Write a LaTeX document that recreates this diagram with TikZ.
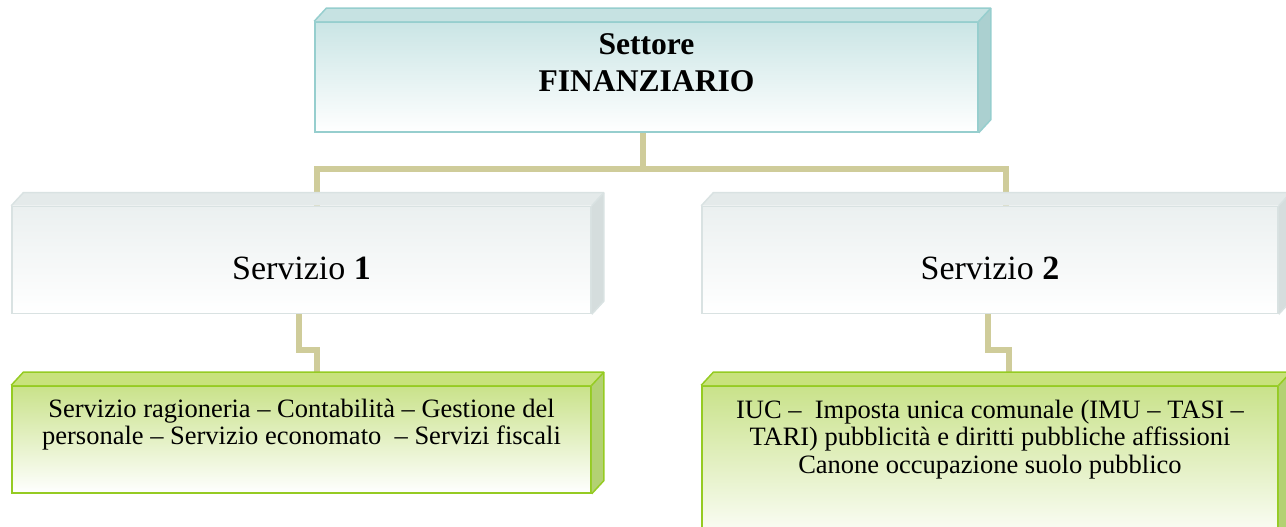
\documentclass[tikz,border=0pt]{standalone}
\usepackage{fontspec}
\setmainfont{Liberation Serif}
\usetikzlibrary{backgrounds}
\definecolor{connC}{HTML}{CFCC9A}
\definecolor{tealB}{HTML}{96CECE}
\definecolor{tealTop}{HTML}{C6E2E2}
\definecolor{tealSide}{HTML}{ABD0D0}
\definecolor{tealFront}{HTML}{CAE5E5}
\definecolor{grayB}{HTML}{D9E2E2}
\definecolor{grayTop}{HTML}{E4EAEA}
\definecolor{graySide}{HTML}{D5DDDD}
\definecolor{grayFront}{HTML}{EBF0F0}
\definecolor{greenB}{HTML}{95CB22}
\definecolor{greenTop}{HTML}{C8E27C}
\definecolor{greenSide}{HTML}{B3D173}
\definecolor{greenFront}{HTML}{C9E28A}
\tikzset{
  x=1pt,y=1pt,
  conn/.style={draw=connC, line width=6pt, line join=miter},
  facebox/.style={draw, line width=1.5pt, inner sep=0pt, align=center, bottom color=white},
  tealbox/.style={facebox, draw=tealB, top color=tealFront},
  graybox/.style={facebox, draw=grayB, top color=grayFront},
  greenbox/.style={facebox, draw=greenB, top color=greenFront},
}
\newcommand\boxdepth[4]{%
  \fill[#2] (#1.north west) -- ++(12,13) -- ([shift={(12,13)}]#1.north east) -- (#1.north east) -- cycle;
  \fill[#3] (#1.north east) -- ++(12,13) -- ([shift={(12,13)}]#1.south east) -- (#1.south east) -- cycle;
  \draw[#4, line width=1.5pt, line join=round] (#1.north west) -- ++(12,13) -- ([shift={(12,13)}]#1.north east) -- ([shift={(12,13)}]#1.south east) -- (#1.south east);
  \draw[#4, line width=1.5pt] (#1.north east) -- ++(12,13);
}
\begin{document}
\begin{tikzpicture}
\useasboundingbox (0,0) rectangle (1286,527);
% top box
\node[tealbox, minimum width=663, minimum height=110] (top) at (646.5,450)
  {\parbox[c][110pt][t]{640pt}{\centering\fontsize{31.6}{37}\selectfont\bfseries\vspace*{12pt}Settore\\FINANZIARIO}};
\boxdepth{top}{tealTop}{tealSide}{tealB}
% service boxes
\node[graybox, minimum width=579, minimum height=107] (s1) at (301.5,267)
  {\parbox[c][107pt][t]{560pt}{\centering\fontsize{34}{38}\selectfont\vspace*{50pt}Servizio \textbf{1}}};
\boxdepth{s1}{grayTop}{graySide}{grayB}
\node[graybox, minimum width=576, minimum height=107] (s2) at (990,267)
  {\parbox[c][107pt][t]{560pt}{\centering\fontsize{34}{38}\selectfont\vspace*{50pt}Servizio \textbf{2}}};
\boxdepth{s2}{grayTop}{graySide}{grayB}
% green boxes
\node[greenbox, minimum width=579, minimum height=107] (g1) at (301.5,87.5)
  {\parbox[c][107pt][t]{570pt}{\centering\fontsize{26.5}{27.5}\selectfont\vspace*{13pt}Servizio ragioneria -- Contabilità -- Gestione del\\personale -- Servizio economato~ -- Servizi fiscali}};
\boxdepth{g1}{greenTop}{greenSide}{greenB}
\node[greenbox, minimum width=576, minimum height=160] (g2) at (990,61)
  {\parbox[c][160pt][t]{570pt}{\centering\fontsize{26.5}{27.5}\selectfont\vspace*{14pt}IUC --~ Imposta unica comunale (IMU -- TASI --\\TARI) pubblicità e diritti pubbliche affissioni\\Canone occupazione suolo pubblico}};
\boxdepth{g2}{greenTop}{greenSide}{greenB}
% connectors
\begin{scope}[on background layer]
\draw[conn] ([xshift=-3.5pt]top.south) -- ++(0,-36) coordinate (bar);
\draw[conn] ([xshift=15pt]s1.north) |- (bar) -| ([xshift=16pt]s2.north);
\draw[conn] ([xshift=-2.5pt]s1.south) -- ++(0,-36) -| ([xshift=15.5pt]g1.north);
\draw[conn] ([xshift=-2pt]s2.south) -- ++(0,-36) -| ([xshift=19pt]g2.north);
\end{scope}
\end{tikzpicture}
\end{document}
